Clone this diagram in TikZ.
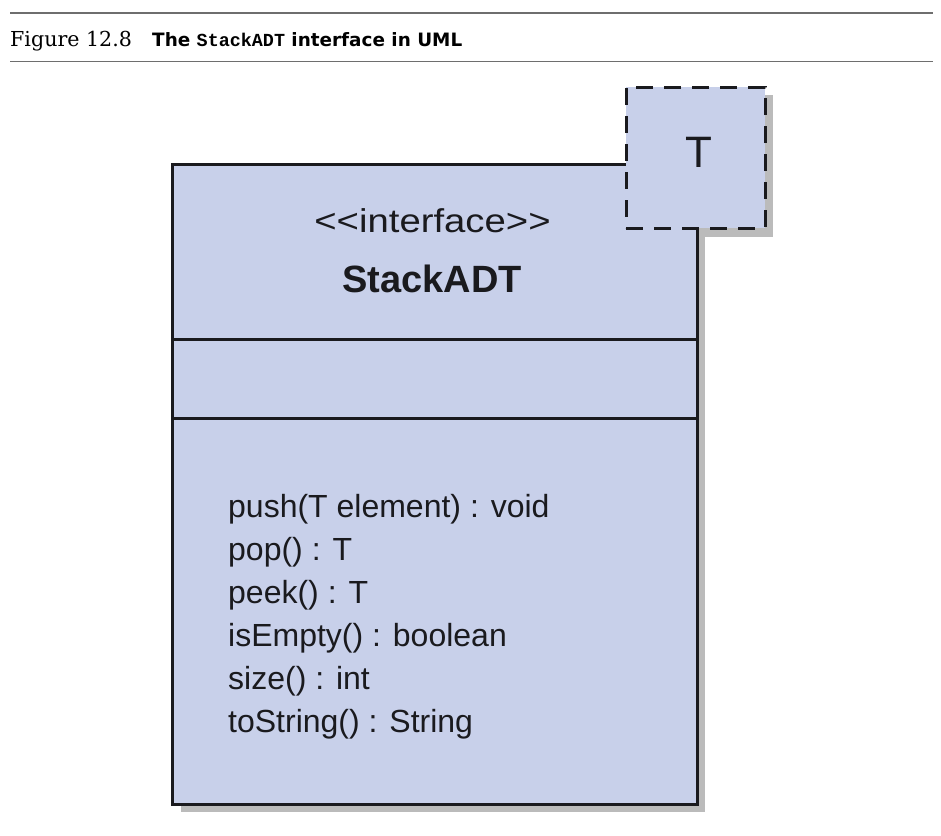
\documentclass[tikz,border=0pt]{standalone}
\usepackage{fontspec}
\usepackage{graphicx}
\setmainfont{Liberation Sans}
\newfontfamily\capserif{DejaVu Serif}
\newfontfamily\capsans{DejaVu Sans}
\newfontfamily\capmono{Liberation Mono}
\definecolor{umlfill}{RGB}{200,208,234}
\definecolor{shadowgray}{RGB}{187,187,187}
\definecolor{rulegray}{RGB}{110,110,110}
\definecolor{ink}{RGB}{26,26,30}
\tikzset{
  umlbox/.style={draw=ink, fill=umlfill, line width=3pt, inner sep=0pt},
  parambox/.style={draw=ink, fill=umlfill, line width=3pt, inner sep=0pt,
     dash pattern=on 17pt off 11pt},
  divider/.style={draw=ink, line width=3pt},
  captionrule/.style={draw=rulegray, line width=1.2pt},
  method/.style={anchor=base west, inner sep=0pt, text=ink,
     font=\fontsize{32}{38}\selectfont},
}
\begin{document}
\begin{tikzpicture}[x=1pt,y=-1pt]
\useasboundingbox (0,0) rectangle (941,835);
% caption
\coordinate (r1a) at (10,13); \coordinate (r1b) at (933,13);
\coordinate (r2a) at (10,61.5); \coordinate (r2b) at (933,61.5);
\draw[captionrule] (r1a) -- (r1b);
\draw[captionrule] (r2a) -- (r2b);
\node[anchor=base west, inner sep=0pt] (fig) at (10,46.5)
  {\capserif\fontsize{20.6}{24}\selectfont Figure 12.8};
\node[anchor=base west, inner sep=0pt] (title) at (152,46.5)
  {\capsans\bfseries\fontsize{18.4}{22}\selectfont The {\capmono\bfseries StackADT} interface in UML};
% shadows
\fill[shadowgray] (634,95) rectangle (773,237);
\fill[shadowgray] (180.5,173) rectangle (705,812);
% main class box
\node[umlbox, minimum width=524.5pt, minimum height=640pt] (cls) at (434.75,484) {};
\coordinate (d1) at (0,339);
\coordinate (d2) at (0,418);
\draw[divider] (cls.west |- d1) -- (cls.east |- d1);
\draw[divider] (cls.west |- d2) -- (cls.east |- d2);
% template parameter box
\node[parambox, minimum width=139pt, minimum height=141pt] (tp) at (695.5,157.5) {};
\node[inner sep=0pt, anchor=base, text=ink, font=\fontsize{44}{50}\selectfont] (tpl) at (698.5,167) {T};
% header texts
\node[inner sep=0pt, anchor=base, text=ink, font=\fontsize{33}{38}\selectfont] (stereo) at (432.5,232) {\scalebox{1.16}[1]{<{}<interface>{}>}};
\node[inner sep=0pt, anchor=base, text=ink, font=\bfseries\fontsize{38}{42}\selectfont] (name) at (432,292) {StackADT};
% operations
\foreach \t [count=\i] in {push(T element) : void, pop() : T, peek() : T, isEmpty() : boolean, size() : int, toString() : String}
  \node[method] (m\i) at (228,{517+43*(\i-1)}) {\t};
\end{tikzpicture}
\end{document}
